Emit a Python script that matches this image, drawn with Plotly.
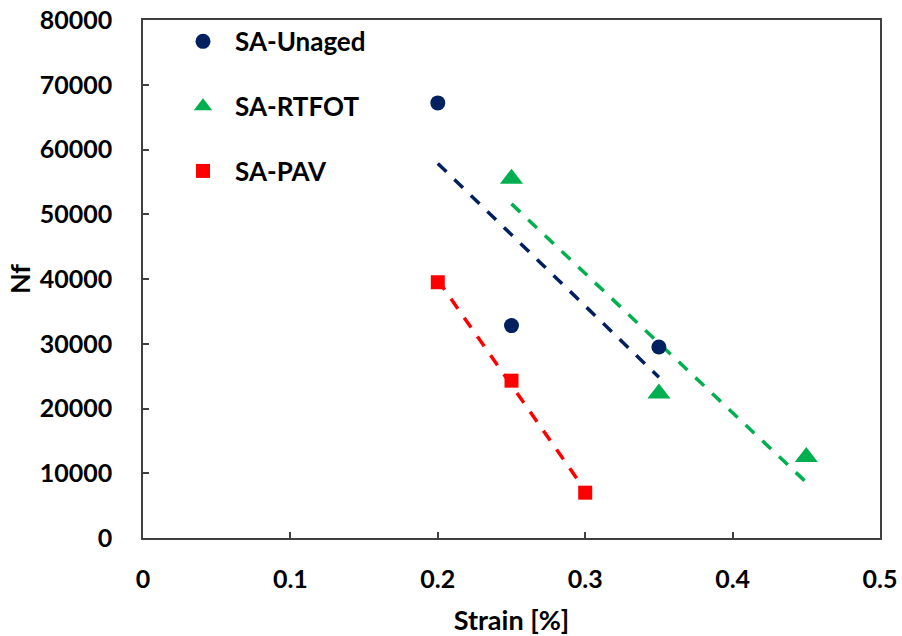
import numpy as np
import plotly.graph_objects as go

# Data
series_names = ["SA-Unaged", "SA-RTFOT", "SA-PAV"]
unaged_strain = [0.20, 0.25, 0.35]
unaged_nf = [67200, 32800, 29500]
rtfot_strain = [0.25, 0.35, 0.45]
rtfot_nf = [55500, 22300, 12500]
pav_strain = [0.20, 0.25, 0.30]
pav_nf = [39500, 24300, 7000]

x_ticks = [0, 0.1, 0.2, 0.3, 0.4, 0.5]
y_ticks = [0, 10000, 20000, 30000, 40000, 50000, 60000, 70000, 80000]

colors = ["#002060", "#00B050", "#FF0000"]
symbols = ["circle", "triangle-up", "square"]
sizes = [15, 20, 14]
xs = [unaged_strain, rtfot_strain, pav_strain]
ys = [unaged_nf, rtfot_nf, pav_nf]

FONT = "Lato"
fig = go.Figure()

# linear trend lines (least squares)
for name, x, y, c in zip(series_names, xs, ys, colors):
    k, b = np.polyfit(x, y, 1)
    xe = [min(x), max(x)]
    fig.add_trace(go.Scatter(
        x=xe, y=[k * v + b for v in xe], mode="lines",
        line=dict(color=c, width=3.5, dash="12px,11px"),
        showlegend=False, hoverinfo="skip"))

for i, (name, x, y, c, s, sz) in enumerate(zip(series_names, xs, ys, colors, symbols, sizes)):
    fig.add_trace(go.Scatter(
        x=x, y=y, mode="markers", name=name, legendgroup=f"g{i}",
        marker=dict(color=c, symbol=s, size=sz, line=dict(width=0))))

axis_common = dict(
    showgrid=False, zeroline=False, showline=True, linecolor="#404040", linewidth=1.5,
    mirror=True, ticks="inside", ticklen=6, tickcolor="#404040", tickwidth=1.5,
    automargin=False, ticklabeloverflow="allow",
    tickfont=dict(family=FONT, size=25, color="#000000", weight="bold"),
)

fig.update_layout(
    width=902, height=636,
    paper_bgcolor="white", plot_bgcolor="white",
    margin=dict(l=143, r=22, t=20, b=98),
    font=dict(family=FONT, color="#000000"),
    xaxis=dict(range=[0, 0.5], tickvals=x_ticks, ticktext=[str(v) for v in x_ticks],
               ticklabelstandoff=18,
               title=dict(text="Strain [%]", standoff=22,
                          font=dict(family=FONT, size=27, weight="bold")),
               **axis_common),
    yaxis=dict(range=[0, 80000], tickvals=y_ticks, ticktext=[str(v) for v in y_ticks],
               ticklabelstandoff=24,
               title=dict(text="Nf", standoff=1,
                          font=dict(family=FONT, size=27, weight="bold")),
               **axis_common),
    legend=dict(x=0.038, y=1.004, xanchor="left", yanchor="top",
                bgcolor="rgba(0,0,0,0)", tracegroupgap=28, itemwidth=54,
                font=dict(family=FONT, size=26, weight="bold")),
)

# remove the default page margin so the 902x636 figure fills the window exactly
fig.write_html("out.html", config={"displayModeBar": False},
               post_script="document.body.style.margin='0';document.body.style.overflow='hidden';")
